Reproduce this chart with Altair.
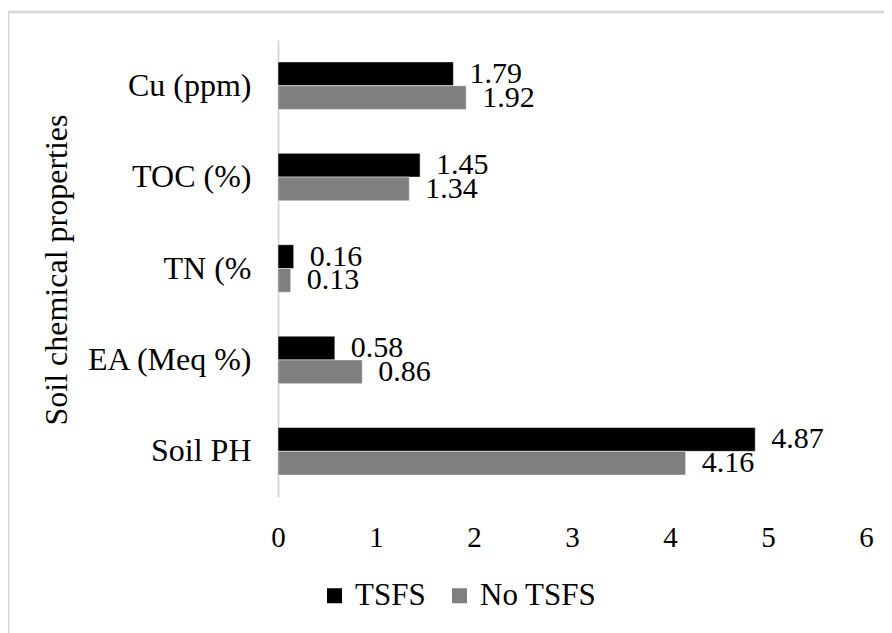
import altair as alt
import pandas as pd

categories = ["Cu (ppm)", "TOC (%)", "TN (%", "EA (Meq %)", "Soil PH"]
tsfs = [1.79, 1.45, 0.16, 0.58, 4.87]
no_tsfs = [1.92, 1.34, 0.13, 0.86, 4.16]
series = ["TSFS", "No TSFS"]
colors = ["#000000", "#7f7f7f"]
x_ticks = [0, 1, 2, 3, 4, 5, 6]

rows = []
for c, a, b in zip(categories, tsfs, no_tsfs):
    rows.append({"cat": c, "series": series[0], "value": a, "label": f"{a:.2f}"})
    rows.append({"cat": c, "series": series[1], "value": b, "label": f"{b:.2f}"})
df = pd.DataFrame(rows)

FONT = "Liberation Serif"
W, H = 588, 457

x_enc = alt.X(
    "value:Q",
    scale=alt.Scale(domain=[0, 6], nice=False),
    axis=alt.Axis(
        values=x_ticks, title=None, grid=False, domain=False, ticks=False,
        labelPadding=26, labelFontSize=29, labelFont=FONT, labelColor="#000000",
        labelFlush=False, format="d",
    ),
)
y_enc = alt.Y(
    "cat:N",
    sort=categories,
    scale=alt.Scale(paddingInner=0.48, paddingOuter=0.24),
    axis=alt.Axis(
        title="Soil chemical properties", titleFont=FONT, titleFontSize=32,
        titleFontWeight="normal", titleColor="#000000",
        titleX=-205, titleY=H / 2 + 1, titleBaseline="bottom", titleAngle=270,
        labelFont=FONT, labelFontSize=32, labelColor="#000000", labelPadding=27,
        labelLimit=400, ticks=False, domainColor="#d9d9d9", domainWidth=2,
        grid=False,
    ),
)
yoff = alt.YOffset("series:N", sort=series, scale=alt.Scale(domain=series, paddingInner=0, paddingOuter=0))
color = alt.Color(
    "series:N",
    scale=alt.Scale(domain=series, range=colors),
    legend=alt.Legend(
        title=None, orient="none", direction="horizontal", legendX=41, legendY=540,
        symbolType="square", symbolSize=225, symbolStrokeWidth=0,
        labelFont=FONT, labelFontSize=31, labelColor="#000000",
        labelOffset=5, columnPadding=18,
    ),
)

bars = alt.Chart(df).mark_bar(stroke="#ffffff", strokeWidth=0.5).encode(
    x=x_enc, y=y_enc, yOffset=yoff, color=color
)
labels = alt.Chart(df).mark_text(
    align="left", baseline="middle", dx=16, font=FONT, fontSize=30, color="#000000"
).encode(x="value:Q", y=alt.Y("cat:N", sort=categories), yOffset=alt.YOffset("series:N", sort=series), text="label:N")

frame_df = pd.DataFrame({"k": [0]})
left_line = alt.Chart(frame_df).mark_rule(color="#d9d9d9", strokeWidth=3).encode(
    x=alt.value(-270), y=alt.value(-29), y2=alt.value(H + 200)
)
top_line = alt.Chart(frame_df).mark_rule(color="#d9d9d9", strokeWidth=3).encode(
    x=alt.value(-270), x2=alt.value(W + 200), y=alt.value(-28)
)

chart = alt.layer(left_line, top_line, bars, labels).properties(
    width=W, height=H,
    autosize=alt.AutoSizeParams(type="none"),
    padding={"left": 270, "top": 32, "right": 18, "bottom": 136},
    background="#ffffff",
).configure(font=FONT, view=alt.ViewConfig(stroke=None))

chart.save("out.html", embed_options={"renderer": "svg", "actions": False})
